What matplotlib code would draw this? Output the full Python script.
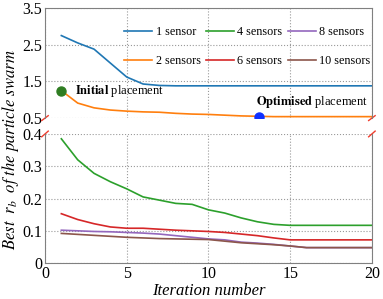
import numpy as np
import matplotlib.pyplot as plt

plt.rcParams['font.family'] = ['Liberation Serif', 'DejaVu Serif']
plt.rcParams['mathtext.fontset'] = 'stix'

# data
it = np.arange(1, 21)
s1 = [2.75, 2.55, 2.38, 2.0, 1.62, 1.43, 1.39, 1.38, 1.38, 1.38,
      1.38, 1.38, 1.38, 1.38, 1.38, 1.38, 1.38, 1.38, 1.38, 1.38]
s2 = [1.25, 0.91, 0.78, 0.72, 0.69, 0.67, 0.66, 0.63, 0.61, 0.60,
      0.58, 0.56, 0.55, 0.54, 0.54, 0.54, 0.54, 0.54, 0.54, 0.54]
s4 = [0.385, 0.32, 0.278, 0.252, 0.23, 0.205, 0.195, 0.185, 0.182, 0.165,
      0.155, 0.14, 0.128, 0.12, 0.117, 0.117, 0.117, 0.117, 0.117, 0.117]
s6 = [0.153, 0.135, 0.122, 0.112, 0.108, 0.108, 0.105, 0.102, 0.10, 0.098,
      0.095, 0.09, 0.085, 0.078, 0.072, 0.072, 0.072, 0.072, 0.072, 0.072]
s8 = [0.102, 0.100, 0.098, 0.097, 0.095, 0.093, 0.09, 0.085, 0.08, 0.075,
      0.072, 0.065, 0.062, 0.058, 0.053, 0.048, 0.048, 0.048, 0.048, 0.048]
s10 = [0.092, 0.089, 0.086, 0.083, 0.08, 0.078, 0.076, 0.075, 0.074, 0.073,
       0.068, 0.063, 0.06, 0.057, 0.053, 0.048, 0.048, 0.048, 0.048, 0.048]

init_pt = (1, 1.25)
opt_pt = (13.1, 0.54)

fig = plt.figure(figsize=(3.83, 2.99), dpi=100)
ax1 = fig.add_axes([0.1175, 0.605, 0.8535, 0.368])
ax2 = fig.add_axes([0.1175, 0.120, 0.8535, 0.432])

l1, = ax1.plot(it, s1, color='C0', lw=1.2, label='1 sensor')
l2, = ax1.plot(it, s2, color='C1', lw=1.2, label='2 sensors')
l4, = ax2.plot(it, s4, color='C2', lw=1.2, label='4 sensors')
l6, = ax2.plot(it, s6, color='C3', lw=1.2, label='6 sensors')
l8, = ax2.plot(it, s8, color='C4', lw=1.2, label='8 sensors')
l10, = ax2.plot(it, s10, color='C5', lw=1.2, label='10 sensors')

ax1.plot(*init_pt, 'o', color='#2f7d22', ms=6.5, zorder=5)
ax1.plot(*opt_pt, 'o', color='#1030ff', ms=6.5, zorder=5)
ax1.text(1.85, 1.25, r'$\mathbf{Initial}$ placement', fontsize=9,
         va='center', ha='left')
ax1.text(12.9, 0.94, r'$\mathbf{Optimised}$ placement', fontsize=9,
         va='center', ha='left')

ax1.set_ylim(0.5, 3.5)
ax1.set_yticks([0.5, 1.5, 2.5, 3.5])
ax2.set_ylim(0, 0.4)
ax2.set_yticks([0, 0.1, 0.2, 0.3, 0.4])
ax2.set_yticklabels(['0', '0.1', '0.2', '0.3', '0.4'])
for ax in (ax1, ax2):
    ax.set_xlim(0, 20)
    ax.set_xticks([0, 5, 10, 15, 20])
    ax.grid(True, ls=':', color='#999999', lw=0.8)
    ax.tick_params(length=0, labelsize=11.5, pad=2)
    for sp in ax.spines.values():
        sp.set_color('#808080')
ax1.tick_params(labelbottom=False)
ax1.spines['bottom'].set_visible(False)
ax2.spines['top'].set_visible(False)

# break marks
kw = dict(color='#f03c2c', lw=1, clip_on=False)
d = 0.022
for ax, y0 in ((ax1, 0.0), (ax2, 1.0)):
    for x0 in (0.0, 1.0):
        ax.plot([x0 - d * 0.45, x0 + d * 0.45], [y0 - d, y0 + d],
                transform=ax.transAxes, **kw)

ax1.legend(handles=[l1, l2, l4, l6, l8, l10], ncol=3, frameon=False,
           fontsize=8.7, loc='upper right', bbox_to_anchor=(1.0, 0.85),
           borderaxespad=0, borderpad=0.1,
           handlelength=2.3, handletextpad=0.3, columnspacing=0.45,
           labelspacing=1.45)

ax2.set_xlabel('Iteration number', fontsize=12, style='italic', labelpad=1)
fig.text(0.027, 0.5, r'$Best\ \ \boldsymbol{r_b}\ \ of\ the\ particle\ swarm$',
         rotation=90, va='center', ha='center', fontsize=12)

fig.savefig('out.png', dpi=100)
